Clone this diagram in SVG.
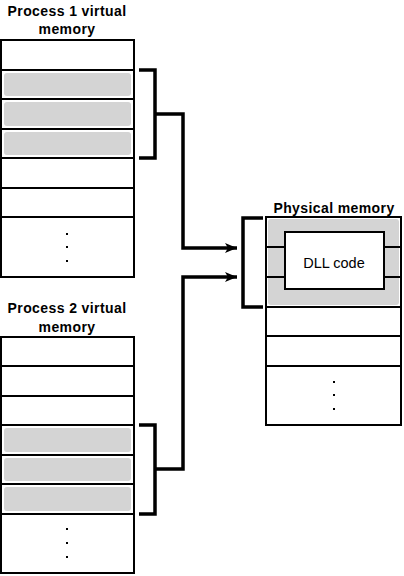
<svg xmlns="http://www.w3.org/2000/svg" width="404" height="576" viewBox="0 0 404 576">
<defs>
<style>
.title{font-family:"Liberation Sans",Arial,sans-serif;font-weight:bold;font-size:14px;letter-spacing:0.4px;fill:#000;text-anchor:middle}
.lbl{font-family:"Liberation Sans",Arial,sans-serif;font-size:14.5px;fill:#000;text-anchor:middle}
.box{fill:#fff;stroke:#000;stroke-width:2}
.row{stroke:#000;stroke-width:2;fill:none}
.sh{fill:#d4d4d4}
.dot{fill:#000}
.con{fill:none;stroke:#000;stroke-width:3.5;stroke-linejoin:miter;stroke-linecap:butt}
</style>
<marker id="ah" markerWidth="12" markerHeight="10" refX="12" refY="5" orient="auto" markerUnits="userSpaceOnUse">
<path d="M0,0 L12,5 L0,10 L3,5 Z" fill="#000"/>
</marker>
</defs>
<rect width="404" height="576" fill="#fff"/>

<g id="process1">
<text class="title" x="67" y="16">Process 1 virtual</text>
<text class="title" x="67" y="34">memory</text>
<rect class="box" x="1" y="40" width="133" height="237"/>
<rect class="sh" x="4" y="73" width="127" height="23" rx="3"/>
<rect class="sh" x="4" y="102" width="127" height="24" rx="3"/>
<rect class="sh" x="4" y="132" width="127" height="23" rx="3"/>
<path class="row" d="M1,70H134M1,99H134M1,129H134M1,158H134M1,188H134M1,217H134"/>
<rect class="dot" x="66" y="233" width="2" height="2"/>
<rect class="dot" x="66" y="246" width="2" height="2"/>
<rect class="dot" x="66" y="260" width="2" height="2"/>
</g>

<g id="process2">
<text class="title" x="67" y="313">Process 2 virtual</text>
<text class="title" x="67" y="332">memory</text>
<rect class="box" x="1" y="337" width="133" height="236"/>
<rect class="sh" x="4" y="428" width="127" height="24" rx="3"/>
<rect class="sh" x="4" y="458" width="127" height="23" rx="3"/>
<rect class="sh" x="4" y="487" width="127" height="24" rx="3"/>
<path class="row" d="M1,366H134M1,396H134M1,425H134M1,455H134M1,484H134M1,514H134"/>
<rect class="dot" x="66" y="528" width="2" height="2"/>
<rect class="dot" x="66" y="542" width="2" height="2"/>
<rect class="dot" x="66" y="556" width="2" height="2"/>
</g>

<g id="physical">
<text class="title" x="334" y="213">Physical memory</text>
<rect class="box" x="266" y="217" width="135" height="208"/>
<rect class="sh" x="268" y="219" width="131" height="86" rx="3"/>
<path class="row" d="M266,247H401M266,277H401M266,307H401M266,336H401M266,366H401"/>
<rect class="box" x="285" y="232" width="99" height="57"/>
<text class="lbl" x="334" y="268">DLL code</text>
<rect class="dot" x="333" y="381" width="2" height="2"/>
<rect class="dot" x="333" y="394" width="2" height="2"/>
<rect class="dot" x="333" y="408" width="2" height="2"/>
</g>

<g id="connectors">
<path class="con" d="M139,70H155V158H139M155,114H183V248H237" marker-end="url(#ah)"/>
<path class="con" d="M139,425H155V514H139M155,469H183V277H237" marker-end="url(#ah)"/>
<path class="con" d="M263,218H243V307H263"/>
</g>
</svg>
